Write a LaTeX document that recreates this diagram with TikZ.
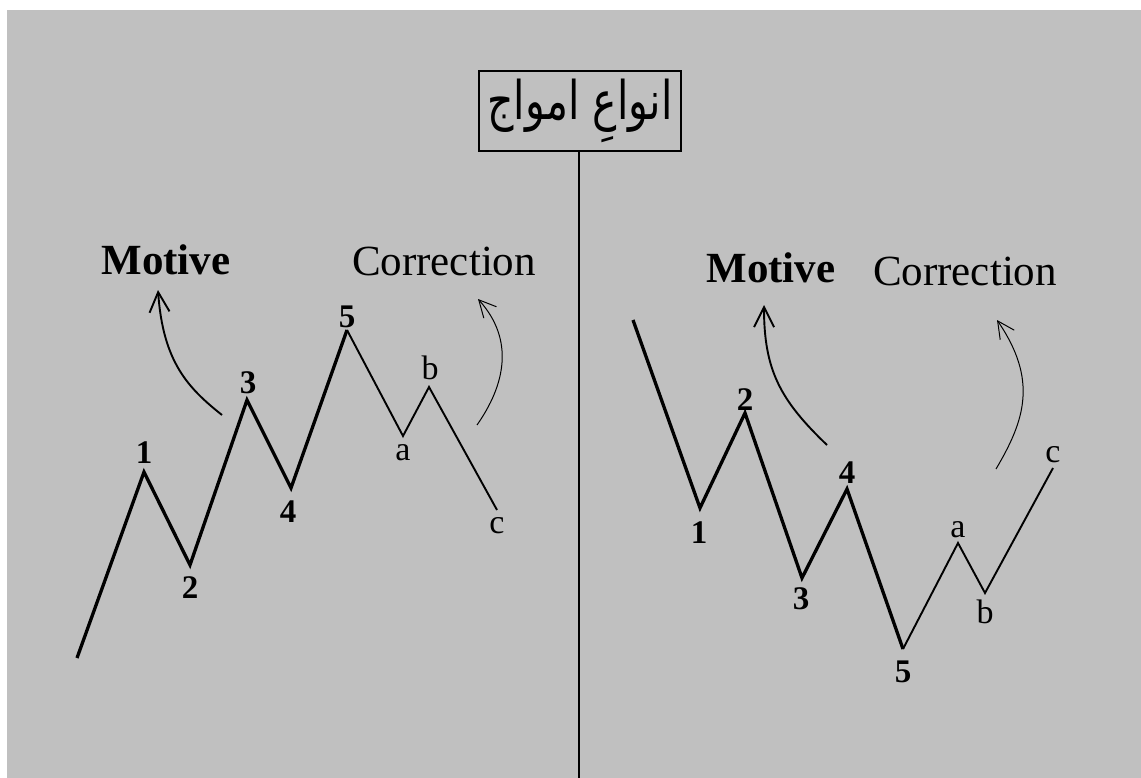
\documentclass[tikz,border=0pt]{standalone}
\usepackage{fontspec}
\usepackage{graphicx}
\setmainfont{Liberation Serif}
\newfontfamily\arabicfont[Script=Arabic]{DejaVu Sans}
\TeXXeTstate=1
\usetikzlibrary{arrows.meta}
\definecolor{bggray}{RGB}{192,192,192}
\tikzset{
  bigwave/.style={line width=3.3pt},
  smallwave/.style={line width=1.9pt},
  numlab/.style={font=\bfseries\fontsize{33}{33}\selectfont, anchor=base, inner sep=0pt},
  letlab/.style={font=\fontsize{34}{34}\selectfont, anchor=base, inner sep=0pt},
  boldtitle/.style={font=\bfseries\fontsize{43}{43}\selectfont, anchor=base, inner sep=0pt},
  plaintitle/.style={font=\fontsize{43}{43}\selectfont, anchor=base, inner sep=0pt},
  thickarrow/.style={line width=1.9pt, -{Straight Barb[length=20pt,width=20pt]}},
  thinarrow/.style={line width=1pt, -{Straight Barb[length=17pt,width=17pt]}},
  titlebox/.style={draw, line width=1.3pt, minimum width=202pt, minimum height=80pt, inner sep=0pt}
}
\begin{document}
\begin{tikzpicture}[x=1pt,y=-1pt]
\useasboundingbox (0,0) rectangle (1141,778);
\fill[white] (0,0) rectangle (1141,778);
\fill[bggray] (7,10) rectangle (1141,778);

% title box and divider
\node[titlebox] (title) at (580,111) {\scalebox{1}[1.3]{\arabicfont\fontsize{41}{41}\selectfont\beginR انواعِ امواج\endR}};
\coordinate (bottom) at (579,778);
\draw[line width=1.3pt] (title.south -| bottom) -- (bottom);

% left wave points
\coordinate (L0) at (77,658);
\coordinate (L1) at (144,472);
\coordinate (L2) at (190,565);
\coordinate (L3) at (247,400);
\coordinate (L4) at (291,488);
\coordinate (L5) at (347,330);
\coordinate (La) at (403,436);
\coordinate (Lb) at (429,387);
\coordinate (Lc) at (497,510);
\draw[bigwave] (L0) -- (L1) -- (L2) -- (L3) -- (L4) -- (L5);
\draw[smallwave] (L5) -- (La) -- (Lb) -- (Lc);

\node[numlab] (l1) at (144,463) {1};
\node[numlab] (l2) at (190,598) {2};
\node[numlab] (l3) at (248,393) {3};
\node[numlab] (l4) at (288,522) {4};
\node[numlab] (l5) at (347,327) {5};
\node[letlab] (la) at (403,460) {a};
\node[letlab] (lb) at (430,379) {b};
\node[letlab] (lc) at (497,533) {c};

\node[boldtitle] (lmotive) at (166,275) {Motive};
\node[plaintitle] (lcorr) at (444,276) {Correction};

\coordinate (lma) at (222,415);
\coordinate (lmb) at (158,290);
\draw[thickarrow] (lma) .. controls (188,388) and (163,362) .. (lmb);
\coordinate (lca) at (477,425);
\coordinate (lcb) at (478,299);
\draw[thinarrow] (lca) .. controls (505,385) and (515,340) .. (lcb);

% right wave points
\coordinate (R0) at (633,320);
\coordinate (R1) at (700,508);
\coordinate (R2) at (745,413);
\coordinate (R3) at (802,578);
\coordinate (R4) at (847,489);
\coordinate (R5) at (903,649);
\coordinate (Ra) at (958,543);
\coordinate (Rb) at (985,593);
\coordinate (Rc) at (1053,468);
\draw[bigwave] (R0) -- (R1) -- (R2) -- (R3) -- (R4) -- (R5);
\draw[smallwave] (R5) -- (Ra) -- (Rb) -- (Rc);

\node[numlab] (r1) at (699,543) {1};
\node[numlab] (r2) at (745,410) {2};
\node[numlab] (r3) at (801,609) {3};
\node[numlab] (r4) at (847,483) {4};
\node[numlab] (r5) at (903,682) {5};
\node[letlab] (ra) at (958,537) {a};
\node[letlab] (rb) at (985,623) {b};
\node[letlab] (rc) at (1053,462) {c};

\node[boldtitle] (rmotive) at (771,283) {Motive};
\node[plaintitle] (rcorr) at (965,286) {Correction};

\coordinate (rma) at (827,445);
\coordinate (rmb) at (764,305);
\draw[thickarrow] (rma) .. controls (780,400) and (764,370) .. (rmb);
\coordinate (rca) at (996,469);
\coordinate (rcb) at (997,320);
\draw[thinarrow] (rca) .. controls (1025,420) and (1038,380) .. (rcb);
\end{tikzpicture}
\end{document}
